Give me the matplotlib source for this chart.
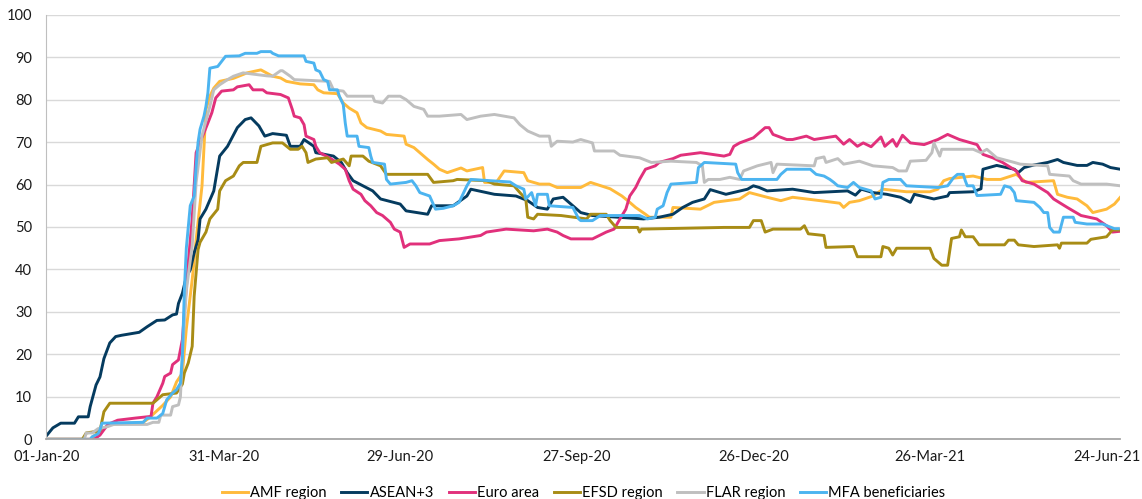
import numpy as np
import pandas as pd
import matplotlib
matplotlib.use("Agg")
import matplotlib.pyplot as plt

# dias desde 01-Jan-20 e valores
inicio = pd.Timestamp("2020-01-01")

amf_dias = [0, 22, 27, 32, 49, 52, 59, 63, 66, 69, 71, 74, 76, 79, 81, 83, 85, 88, 95, 102, 109, 115, 119, 122, 129, 136, 138, 141, 148, 151, 154, 158, 160, 163, 170, 173, 182, 183, 187, 190, 194, 197, 200, 204, 211, 214, 222, 223, 229, 233, 243, 245, 251, 256, 260, 272, 277, 287, 293, 297, 300, 305, 307, 318, 319, 333, 340, 353, 358, 367, 374, 380, 394, 404, 406, 409, 414, 421, 426, 438, 450, 454, 457, 460, 472, 479, 486, 494, 499, 513, 515, 520, 525, 530, 533, 540, 544, 547]
amf = [0, 0, 2, 3.5, 4, 5, 8, 10, 13.5, 15.6, 26, 37.6, 47, 59.7, 77.7, 80.8, 82.7, 84.3, 85, 86.3, 87, 85.5, 85.1, 84.3, 83.7, 83.5, 82.3, 81.6, 81.4, 79.2, 78, 76.9, 74.5, 73.4, 72.6, 71.8, 71.4, 69.5, 68.7, 67.5, 65.9, 64.8, 63.6, 62.8, 63.9, 63.2, 64, 60.5, 60.5, 63.2, 62.8, 60.9, 60.1, 60.1, 59.3, 59.3, 60.5, 59, 57.3, 55.8, 54.6, 53, 52.3, 52.3, 54.6, 54.2, 55.8, 56.6, 58.1, 57, 56.2, 57, 56.2, 55.6, 54.6, 55.8, 56.2, 57.3, 58.9, 58.3, 58.3, 58.9, 60.9, 61.4, 62, 61.2, 61.2, 62.4, 60.5, 60.9, 57.7, 57, 56.6, 55, 53.4, 54.2, 55.4, 57]

asean_dias = [0, 3, 7, 14, 16, 21, 22, 25, 27, 29, 32, 35, 38, 47, 51, 56, 60, 64, 66, 67, 69, 71, 73, 75, 77, 78, 81, 85, 88, 92, 97, 101, 104, 108, 111, 115, 122, 124, 129, 131, 136, 137, 146, 150, 153, 156, 161, 166, 170, 180, 183, 194, 196, 207, 214, 216, 228, 239, 245, 250, 255, 258, 263, 268, 272, 278, 304, 312, 319, 324, 329, 335, 338, 346, 357, 360, 363, 367, 380, 391, 408, 412, 415, 421, 428, 435, 440, 442, 452, 459, 460, 472, 476, 477, 484, 493, 495, 498, 503, 510, 515, 518, 525, 530, 533, 538, 542, 547]
asean = [1, 2.7, 3.8, 3.8, 5.3, 5.3, 7.7, 12.8, 14.7, 19, 22.7, 24.2, 24.5, 25.2, 26.5, 28, 28.1, 29.3, 29.5, 32, 34.4, 38.3, 39.9, 43.9, 47, 51.9, 54.2, 58.5, 66.7, 69, 73.4, 75.3, 75.7, 73.8, 71.4, 72, 71.6, 69, 69, 70.6, 69, 67.5, 66.7, 65.2, 62.8, 60.9, 59.7, 58.5, 56.6, 55.4, 53.8, 53, 55, 55, 57.3, 58.9, 57.7, 57.3, 56.2, 54.6, 54.2, 56.6, 57, 55, 53.4, 52.7, 51.9, 52.3, 53, 54.6, 55.8, 56.6, 58.8, 57.7, 58.9, 59.7, 59.3, 58.5, 58.9, 58.1, 58.5, 57.5, 58.9, 58.1, 57.7, 57, 55.8, 57.7, 56.6, 57.3, 58.1, 58.3, 59, 63.6, 64.5, 63.6, 62.8, 64, 64.6, 65.2, 65.9, 65.2, 64.5, 64.5, 65.2, 64.8, 64, 63.6]

euro_dias = [0, 24, 27, 31, 36, 45, 53, 54, 56, 59, 60, 63, 64, 67, 69, 70, 72, 74, 76, 78, 80, 82, 84, 86, 89, 95, 97, 103, 105, 110, 112, 119, 123, 125, 126, 129, 131, 132, 136, 137, 139, 144, 149, 152, 154, 156, 160, 162, 165, 168, 171, 175, 177, 180, 182, 185, 195, 200, 210, 221, 224, 234, 248, 255, 260, 263, 267, 278, 285, 289, 292, 295, 297, 300, 302, 305, 310, 312, 319, 323, 333, 345, 348, 350, 353, 360, 363, 366, 368, 370, 377, 380, 387, 391, 402, 406, 409, 413, 416, 420, 425, 427, 431, 433, 436, 440, 447, 454, 459, 465, 474, 477, 482, 487, 494, 497, 503, 510, 513, 520, 527, 535, 540, 543, 547]
euro = [0, 0, 1, 3.5, 4.5, 5, 5.4, 8.5, 10, 13.2, 14.8, 15.6, 17.6, 18.7, 23.5, 29.8, 41.6, 52, 67.5, 70, 72.2, 74.5, 76.9, 80.4, 82, 82.3, 83, 83.5, 82.3, 82.3, 81.6, 81.2, 80.4, 77.7, 76.1, 75.7, 74.1, 71.4, 70.6, 69, 67.5, 66.3, 64.8, 63.6, 60.9, 58.9, 57.7, 56.2, 55, 53.4, 52.7, 51.1, 49.5, 48.8, 45.2, 46, 46, 46.8, 47.2, 48, 48.8, 49.5, 49.1, 49.5, 48.8, 48, 47.2, 47.2, 48.8, 49.5, 51.9, 54.2, 57.3, 59.3, 61.2, 63.6, 64.4, 65.2, 66.1, 66.9, 67.5, 66.7, 67.1, 69, 69.8, 71, 72.2, 73.4, 73.4, 71.8, 70.6, 70.6, 71.4, 70.6, 71.4, 69.5, 70.6, 69, 69.8, 68.9, 71.2, 69, 70.6, 69, 71.6, 69.8, 69.4, 70.6, 71.8, 70.6, 69.4, 67.1, 66.3, 65.2, 63.2, 60.9, 60.1, 58.1, 56.6, 54.6, 52.7, 51.9, 50.3, 48.8, 49]

efsd_dias = [0, 18, 20, 27, 29, 32, 54, 57, 59, 66, 69, 70, 72, 74, 75, 77, 78, 81, 83, 87, 88, 91, 95, 98, 100, 107, 109, 115, 120, 124, 128, 130, 132, 133, 137, 143, 145, 151, 154, 155, 161, 164, 170, 173, 194, 197, 207, 209, 224, 228, 238, 241, 244, 245, 248, 250, 262, 275, 277, 285, 287, 290, 301, 302, 303, 345, 358, 360, 364, 366, 370, 384, 386, 388, 396, 397, 411, 413, 425, 426, 429, 431, 433, 450, 452, 454, 456, 459, 461, 465, 466, 468, 472, 475, 488, 490, 493, 495, 503, 515, 516, 517, 530, 532, 540, 543, 547]
efsd = [0, 0, 1.5, 2, 6.5, 8.5, 8.5, 9.7, 10.5, 10.9, 13, 15.6, 18, 21.9, 33.7, 44.7, 46.4, 48.8, 51.9, 54.2, 58.5, 60.9, 62, 64.4, 65.2, 65.2, 69, 69.8, 69.8, 68.3, 68.3, 69, 67.5, 65.2, 66, 66.3, 65.2, 66, 64.4, 66.7, 66.7, 65.5, 64.4, 62.4, 62.4, 60.5, 60.9, 61.2, 60.9, 60.1, 59.7, 58.1, 56.6, 52.3, 51.9, 53, 52.7, 51.9, 53, 53, 51.5, 49.9, 49.9, 48.8, 49.5, 49.9, 49.9, 51.5, 51.5, 48.8, 49.5, 49.5, 50.3, 48.4, 48, 45.2, 45.4, 43, 43, 45.4, 45, 43.4, 45, 45, 42.6, 41.8, 41, 41, 47.3, 47.7, 49.3, 47.7, 47.7, 45.8, 45.8, 46.9, 46.9, 45.8, 45.4, 45.8, 45, 46.2, 46.2, 47.1, 47.7, 49.3, 49.3]

flar_dias = [0, 19, 20, 23, 26, 31, 34, 51, 54, 57, 58, 63, 64, 67, 68, 69, 71, 74, 76, 79, 83, 85, 88, 92, 95, 100, 105, 112, 115, 119, 120, 124, 126, 144, 146, 151, 153, 166, 167, 171, 174, 180, 183, 187, 192, 194, 200, 211, 214, 221, 228, 238, 241, 245, 251, 256, 257, 260, 268, 272, 278, 279, 289, 292, 302, 308, 318, 331, 334, 335, 337, 343, 348, 353, 355, 362, 369, 370, 372, 391, 392, 396, 397, 403, 406, 414, 421, 431, 434, 438, 440, 448, 451, 452, 455, 456, 472, 476, 479, 484, 493, 496, 510, 511, 521, 523, 527, 540, 547]
flar = [0, 0, 1.5, 1.5, 2.5, 3, 3.5, 3.5, 4, 4, 5.7, 5.7, 7.7, 8.1, 10, 20, 35, 45.6, 60.5, 71.5, 78.4, 82.3, 83.5, 84.7, 85.5, 86.3, 86, 85.6, 85.5, 86.8, 86.8, 85.5, 84.7, 84.3, 82.3, 82, 80.8, 80.8, 79.6, 79.2, 80.8, 80.8, 80, 78.4, 77.7, 76.1, 76.1, 76.5, 75.3, 76.1, 76.5, 75.7, 74.1, 72.6, 71.4, 71.4, 69, 70.2, 70, 70.6, 69.8, 67.9, 67.9, 66.9, 66.3, 65.2, 65.5, 65.2, 64.4, 60.5, 61.2, 61.2, 61.7, 61.2, 63.2, 64.4, 65.2, 62.8, 64.8, 64.4, 66.1, 66.5, 65.2, 66.1, 64.8, 65.5, 64.4, 64, 63.2, 63.2, 65.5, 65.7, 67.5, 69.8, 66.7, 68.3, 68.3, 67.5, 68.3, 66.3, 65.2, 64.8, 64.4, 62.4, 62, 60.9, 60.1, 60.1, 59.7]

mfa_dias = [0, 22, 23, 26, 27, 28, 49, 51, 56, 58, 59, 61, 64, 66, 68, 69, 70, 71, 72, 73, 75, 76, 77, 78, 80, 81, 82, 83, 87, 89, 91, 98, 101, 107, 109, 114, 115, 118, 131, 132, 136, 137, 139, 141, 143, 144, 148, 149, 151, 152, 153, 158, 159, 164, 165, 166, 172, 173, 175, 183, 186, 188, 190, 195, 198, 202, 207, 210, 214, 216, 236, 239, 243, 244, 247, 249, 250, 255, 256, 268, 271, 272, 278, 282, 302, 306, 310, 311, 314, 316, 318, 331, 332, 335, 351, 352, 354, 372, 374, 377, 389, 392, 396, 399, 401, 403, 408, 411, 414, 420, 422, 425, 426, 429, 435, 438, 454, 459, 462, 464, 467, 468, 469, 472, 474, 486, 488, 491, 493, 494, 503, 506, 508, 510, 511, 513, 516, 518, 523, 524, 530, 538, 544, 546]
mfa = [0, 0, 0.6, 1.3, 2.2, 3.8, 4, 5, 5, 5.7, 6.1, 9.3, 10.9, 11.7, 13.2, 19.5, 35, 45, 50, 55, 57.3, 64.4, 70, 73, 76.1, 78.4, 81.6, 87.4, 87.8, 89, 90.2, 90.3, 90.9, 90.9, 91.3, 91.3, 90.9, 90.3, 90.3, 89, 88.6, 87, 86.6, 84.7, 84.3, 82.3, 82.3, 80.8, 78.8, 74.5, 71.4, 71.4, 69, 68.7, 66.7, 65.2, 64.8, 61.2, 60.1, 60.5, 60.9, 59.7, 58.1, 57.3, 54.2, 54.4, 55, 55.8, 59.7, 61.2, 60.6, 59.7, 58.9, 56.6, 58.1, 55, 57.7, 57.7, 55, 54.6, 51.9, 51.5, 51.5, 52.7, 52.7, 51.9, 52.3, 54.2, 55, 58.1, 60.1, 60.5, 64, 65.2, 64.8, 62.8, 61.2, 61.2, 62.4, 63.6, 63.6, 62.4, 62, 61.2, 60.5, 59.7, 59.3, 60.5, 59.3, 58.5, 56.6, 57, 60.5, 61.2, 61.2, 59.7, 59.3, 59.7, 61.6, 62.4, 62.4, 60.9, 59.7, 59.7, 57.4, 57.7, 59.7, 59.3, 58.1, 56.2, 55.8, 54.6, 53.4, 53.4, 49.9, 48.8, 48.8, 52.3, 52.3, 51.1, 50.7, 50.7, 49.6, 49.6]

series_nomes = ["AMF region", "ASEAN+3", "Euro area", "EFSD region", "FLAR region", "MFA beneficiaries"]
series_cores = ["#FFBA3B", "#053B5F", "#E1307B", "#A88C15", "#BFBFBF", "#4CB4F0"]
series_dados = [(amf_dias, amf), (asean_dias, asean), (euro_dias, euro),
                (efsd_dias, efsd), (flar_dias, flar), (mfa_dias, mfa)]

tick_dias = [0, 90, 180, 270, 360, 450, 540]
tick_rotulos = ["01-Jan-20", "31-Mar-20", "29-Jun-20", "27-Sep-20", "26-Dec-20", "26-Mar-21", "24-Jun-21"]

plt.rcParams["font.family"] = ["Lato", "DejaVu Sans"]

fig = plt.figure(figsize=(11.42, 4.99), dpi=100)
ax = fig.add_axes([0.0403, 0.1196, 0.9407, 0.851])

for (dias, valores), nome, cor in zip(series_dados, series_nomes, series_cores):
    datas = inicio + pd.to_timedelta(dias, unit="D")
    ax.plot(datas, valores, color=cor, linewidth=2.1, label=nome, solid_joinstyle="round")

ax.set_xlim(inicio - pd.Timedelta(days=0.5), inicio + pd.Timedelta(days=547))
ax.set_ylim(0, 100)
ax.set_yticks(np.arange(0, 101, 10))
ax.set_xticks(inicio + pd.to_timedelta(tick_dias, unit="D"))
ax.set_xticklabels(tick_rotulos)

ax.grid(axis="y", color="#D9D9D9", linewidth=1.0)
ax.set_axisbelow(True)
for lado in ["top", "right"]:
    ax.spines[lado].set_visible(False)
ax.spines["left"].set_color("#BFBFBF")
ax.spines["bottom"].set_color("#A6A6A6")
ax.spines["bottom"].set_linewidth(1.3)
ax.tick_params(axis="both", length=0, labelsize=10.5, colors="#1A1A1A")
ax.tick_params(axis="x", pad=8)
ax.tick_params(axis="y", pad=10)

fig.legend(loc="lower center", bbox_to_anchor=(0.511, -0.028), ncol=6, frameon=False,
           fontsize=10.5, handlelength=1.8, columnspacing=1.0, handletextpad=0.15)

fig.savefig("out.png", dpi=100)
